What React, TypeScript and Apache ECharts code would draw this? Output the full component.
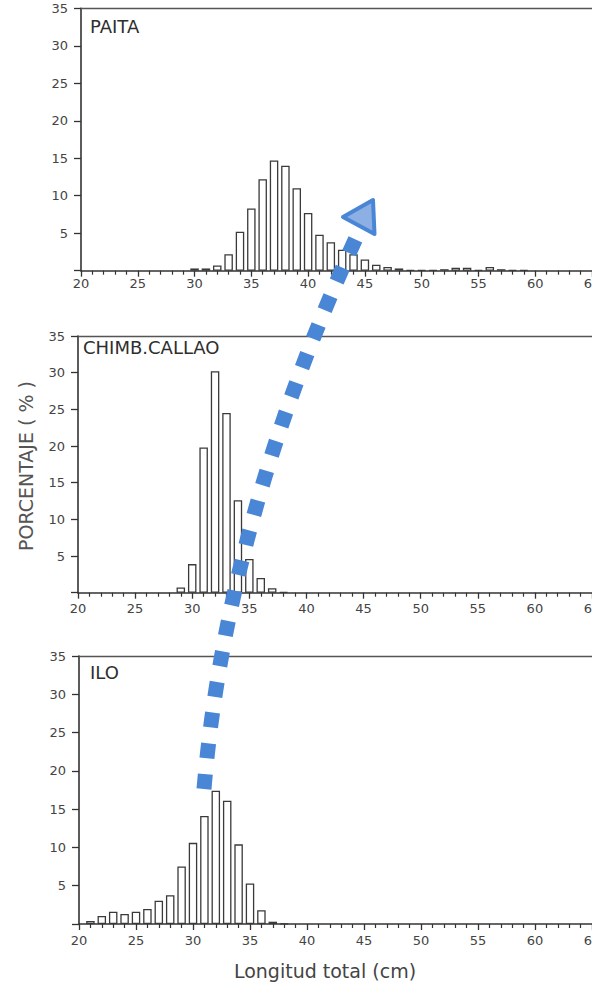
import React, { useEffect, useRef } from 'react';
import * as echarts from 'echarts';

// Length classes (cm)
const lengthClasses = [20, 21, 22, 23, 24, 25, 26, 27, 28, 29, 30, 31, 32, 33, 34, 35, 36, 37, 38, 39, 40, 41, 42, 43, 44, 45, 46, 47, 48, 49, 50, 51, 52, 53, 54, 55, 56, 57, 58, 59, 60];

// Percentage per length class
const paitaPct = [0, 0, 0, 0, 0, 0, 0, 0, 0, 0, 0.3, 0.3, 0.7, 2.2, 5.2, 8.3, 12.2, 14.7, 14.0, 11.0, 7.7, 4.8, 3.8, 2.8, 2.2, 1.5, 0.8, 0.5, 0.3, 0.1, 0.1, 0.1, 0.2, 0.4, 0.4, 0.1, 0.5, 0.2, 0.1, 0.1, 0];
const chimbCallaoPct = [0, 0, 0, 0, 0, 0, 0, 0, 0, 0.7, 3.9, 19.8, 30.2, 24.5, 12.6, 4.6, 2.0, 0.6, 0.1, 0, 0, 0, 0, 0, 0, 0, 0, 0, 0, 0, 0, 0, 0, 0, 0, 0, 0, 0, 0, 0, 0];
const iloPct = [0, 0.4, 1.05, 1.6, 1.3, 1.6, 1.95, 3.05, 3.75, 7.5, 10.6, 14.1, 17.4, 16.1, 10.4, 5.3, 1.8, 0.3, 0.05, 0, 0, 0, 0, 0, 0, 0, 0, 0, 0, 0, 0, 0, 0, 0, 0, 0, 0, 0, 0, 0, 0];

const panelNames = ['PAITA', 'CHIMB.CALLAO', 'ILO'];
const panelValues = [paitaPct, chimbCallaoPct, iloPct];
const xTitle = 'Longitud total (cm)';
const yTitle = 'PORCENTAJE ( % )';

// layout (pixels)
const grids = [
  { left: 81, top: 8.3, right: 0, height: 262.4 },
  { left: 78, top: 336, right: 0, height: 256.7 },
  { left: 79, top: 656, right: 0, height: 268 },
];
const labelMargins = [6, 9, 10];
const titlePos = [
  { x: 90, y: 17 },
  { x: 83, y: 338 },
  { x: 90, y: 663 },
];

const FONT = 'DejaVu Sans';
const INK = '#333';

export default function App() {
  const ref = useRef<HTMLDivElement>(null);
  useEffect(() => {
    if (!ref.current) return;
    const chart = echarts.init(ref.current, undefined, { renderer: 'svg', width: 592, height: 983 });

    const xAxes: any[] = [];
    const yAxes: any[] = [];
    const series: any[] = [];
    grids.forEach((g, i) => {
      xAxes.push({
        gridIndex: i,
        type: 'value',
        position: 'bottom',
        min: 20,
        max: 65,
        interval: 5,
        axisLine: { show: true, onZero: false, lineStyle: { color: INK, width: 1.6 } },
        axisTick: { show: true, length: 6, lineStyle: { color: INK, width: 1.3 } },
        minorTick: { show: true, splitNumber: 5, length: 4, lineStyle: { color: INK, width: 1.2 } },
        axisLabel: { margin: labelMargins[i], fontSize: 13, fontFamily: FONT, color: '#444', hideOverlap: false },
        splitLine: { show: false },
        minorSplitLine: { show: false },
      });
      xAxes.push({
        gridIndex: i,
        type: 'value',
        position: 'top',
        min: 20,
        max: 65,
        interval: 5,
        axisLine: { show: true, onZero: false, lineStyle: { color: '#555', width: 1.3 } },
        axisTick: { show: false },
        axisLabel: { show: false },
        splitLine: { show: false },
      });
      yAxes.push({
        gridIndex: i,
        type: 'value',
        min: 0,
        max: 35,
        interval: 5,
        axisLine: { show: true, onZero: false, lineStyle: { color: INK, width: 1.6 } },
        axisTick: { show: true, length: 7, lineStyle: { color: INK, width: 1.3 } },
        axisLabel: {
          margin: 13,
          fontSize: 13,
          fontFamily: FONT,
          color: '#444',
          formatter: (v: number) => (v === 0 ? '' : String(v)),
        },
        splitLine: { show: false },
      });
      const vals = panelValues[i];
      series.push({
        type: 'bar',
        xAxisIndex: 2 * i,
        yAxisIndex: i,
        barWidth: 8.5,
        itemStyle: { color: '#fff', borderColor: '#3a3a3a', borderWidth: 1.3 },
        data: lengthClasses
          .map((l, k) => (vals[k] > 0 ? [l, vals[k]] : null))
          .filter((d) => d !== null),
      });
    });

    const graphic: any[] = [];
    panelNames.forEach((name, i) => {
      graphic.push({
        type: 'text',
        x: titlePos[i].x,
        y: titlePos[i].y,
        style: {
          text: name,
          fontSize: 18,
          fontFamily: FONT,
          fill: '#2e2e2e',
          align: 'left',
          verticalAlign: 'top',
        },
      });
    });
    graphic.push({
      type: 'text',
      x: 26,
      y: 466,
      rotation: Math.PI / 2,
      style: {
        text: yTitle,
        fontSize: 19,
        fontFamily: FONT,
        fill: '#555',
        align: 'center',
        verticalAlign: 'middle',
      },
    });
    graphic.push({
      type: 'text',
      x: 325,
      y: 971,
      style: {
        text: xTitle,
        fontSize: 19,
        fontFamily: FONT,
        fill: '#444',
        align: 'center',
        verticalAlign: 'middle',
      },
    });
    // blue dotted arrow annotation
    graphic.push({
      type: 'bezierCurve',
      z: 100,
      shape: { x1: 204, y1: 789, cpx1: 227, cpy1: 515, x2: 362, y2: 225 },
      style: { stroke: '#4A86D6', lineWidth: 15, lineDash: [15, 16], lineCap: 'butt', fill: null },
    });
    graphic.push({
      type: 'polygon',
      z: 101,
      shape: { points: [[343, 217], [373, 200], [374.5, 234]] },
      style: { fill: '#8DB0E4', stroke: '#4A86D6', lineWidth: 4, lineJoin: 'round' },
    });

    chart.setOption({
      animation: false,
      backgroundColor: '#fff',
      grid: grids.map((g) => ({ ...g, containLabel: false, outerBoundsMode: 'none' })),
      xAxis: xAxes,
      yAxis: yAxes,
      series,
      graphic,
    });
    return () => chart.dispose();
  }, []);
  return (
    <div
      ref={ref}
      style={{ position: 'fixed', left: 0, top: 0, width: 592, height: 983, background: '#fff' }}
    />
  );
}
